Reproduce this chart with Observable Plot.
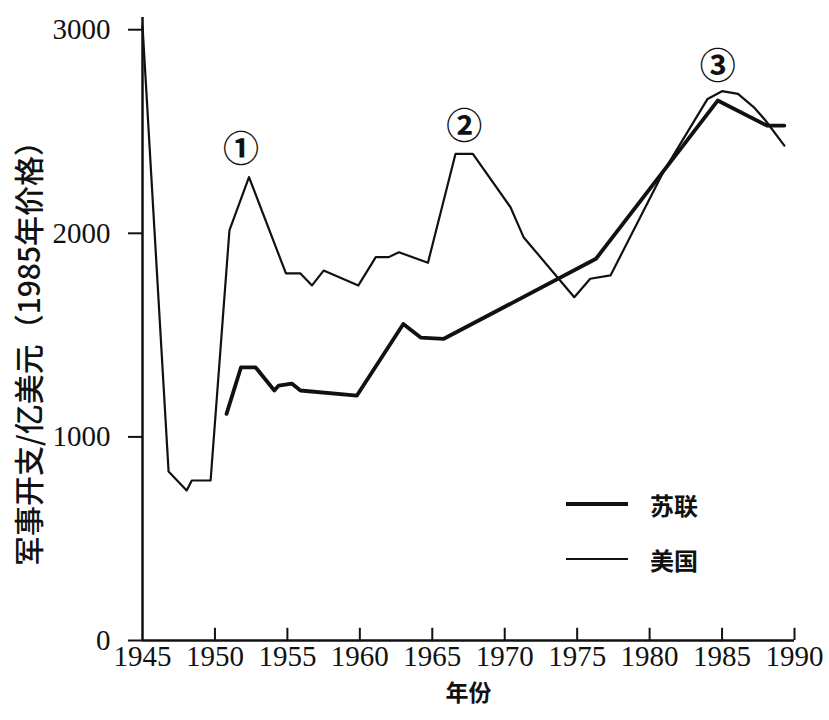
<!DOCTYPE html>
<html>
<head>
<meta charset="utf-8">
<script src="https://cdn.jsdelivr.net/npm/d3@7"></script>
<script src="https://cdn.jsdelivr.net/npm/@observablehq/plot@0.6"></script>
<style>
  html, body { margin: 0; padding: 0; background: #fff; }
  #wrap { position: relative; width: 829px; height: 720px; }
  #legend { position: absolute; left: 566px; top: 486px; font-family: "Noto Sans CJK SC", sans-serif; font-weight: 700; font-size: 24px; color: #111; }
  .row { display: flex; align-items: center; height: 36px; margin-bottom: 19px; }
  .row svg { width: 62px; height: 10px; margin-right: 22px; }
</style>
</head>
<body>
<div id="wrap"></div>
<script>
// ---- data ----
const xTicks = [1945, 1950, 1955, 1960, 1965, 1970, 1975, 1980, 1985, 1990];
const yTicks = [0, 1000, 2000, 3000];

const usYear  = [1945, 1946.8, 1948.05, 1948.4, 1949.7, 1951.0, 1952.35, 1954.9, 1955.9, 1956.7, 1957.5, 1959.9, 1961.1, 1962.0, 1962.7, 1964.7, 1966.6, 1967.8, 1970.4, 1971.3, 1974.8, 1975.9, 1977.3, 1981.0, 1984.0, 1985.0, 1986.1, 1987.2, 1988.0, 1989.3];
const usValue = [3020, 830, 737, 786, 786, 2014, 2276, 1803, 1803, 1744, 1817, 1744, 1883, 1883, 1907, 1855, 2390, 2390, 2128, 1981, 1686, 1777, 1793, 2308, 2660, 2698, 2685, 2619, 2554, 2431];

const ussrYear  = [1950.8, 1951.8, 1952.8, 1954.1, 1954.4, 1955.3, 1955.9, 1959.8, 1963.0, 1964.2, 1965.8, 1976.3, 1984.7, 1988.1, 1989.3];
const ussrValue = [1113, 1342, 1342, 1228, 1252, 1262, 1228, 1203, 1555, 1488, 1482, 1875, 2652, 2529, 2529];

const annoLabel = ["①", "②", "③"];
const annoYear  = [1951.8, 1967.2, 1984.7];
const annoValue = [2407, 2518, 2813];

const seriesNames = ["苏联", "美国"];
const xLabel = "年份";
const yLabel = "军事开支/亿美元（1985年价格）";

// ---- build tables ----
const us = usYear.map((d, i) => ({year: d, value: usValue[i]}));
const ussr = ussrYear.map((d, i) => ({year: d, value: ussrValue[i]}));
const anno = annoLabel.map((d, i) => ({label: d, year: annoYear[i], value: annoValue[i]}));

const cjk = "'Noto Sans CJK SC', sans-serif";
const serif = "'Liberation Serif', 'Times New Roman', serif";

const chart = Plot.plot({
  width: 829,
  height: 720,
  marginLeft: 142,
  marginRight: 35,
  marginTop: 17,
  marginBottom: 80,
  style: {background: "white", color: "#111"},
  x: {domain: [1945, 1990], axis: null},
  y: {domain: [0, 3060], axis: null},
  marks: [
    // y ticks (outward), labels drawn separately for font control
    Plot.axisY({ticks: yTicks, tickFormat: () => "", tickSize: 14, strokeWidth: 2, label: null}),
    Plot.text(yTicks, {y: d => d, frameAnchor: "left", textAnchor: "end", dx: -32, fontSize: 29, fontFamily: serif, fill: "#111", text: d => String(d)}),
    // x ticks (inward) and labels
    Plot.ruleX(xTicks.slice(1), {y1: 0, y2: 60, strokeWidth: 2}),
    Plot.text(xTicks, {x: d => d, frameAnchor: "bottom", dy: 25, fontSize: 29, fontFamily: serif, fill: "#111", text: d => String(d)}),
    // axis lines
    Plot.ruleX([1945], {y1: 0, y2: 3060, strokeWidth: 2.5}),
    Plot.ruleY([0], {strokeWidth: 2.5}),
    // series
    Plot.line(us, {x: "year", y: "value", stroke: "#111", strokeWidth: 2.2}),
    Plot.line(ussr, {x: "year", y: "value", stroke: "#111", strokeWidth: 3.8}),
    Plot.text(anno, {x: "year", y: "value", text: "label", fontSize: 36, fontWeight: 700, fontFamily: cjk, fill: "#111"}),
    // axis titles
    Plot.text([xLabel], {frameAnchor: "bottom", dy: 60, fontSize: 23, fontWeight: 700, fontFamily: cjk, fill: "#111"}),
    Plot.text([yLabel], {frameAnchor: "left", textAnchor: "middle", rotate: -90, dx: -112, dy: 17, fontSize: 30, fontWeight: 500, fontFamily: cjk, fill: "#111"})
  ]
});

const wrap = document.getElementById("wrap");
wrap.appendChild(chart);

// legend (inside the plot area, as in the reference)
const legend = document.createElement("div");
legend.id = "legend";
const widths = [4, 2.2];
seriesNames.forEach((name, i) => {
  const row = document.createElement("div");
  row.className = "row";
  row.innerHTML = `<svg viewBox="0 0 62 10"><line x1="0" x2="62" y1="5" y2="5" stroke="#111" stroke-width="${widths[i]}"/></svg><span>${name}</span>`;
  legend.appendChild(row);
});
wrap.appendChild(legend);
</script>
</body>
</html>
